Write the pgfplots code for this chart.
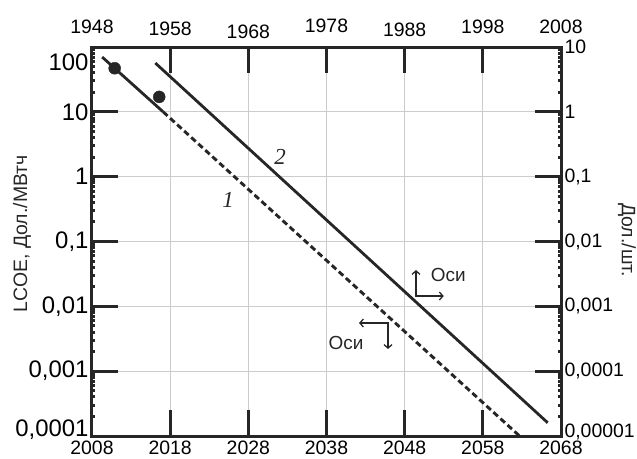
\documentclass[border=0pt]{standalone}
\usepackage{pgfplots}
\pgfplotsset{compat=1.18}
\usepackage{fontspec}
\setmainfont{Liberation Sans}
\newfontfamily\timesfont{Liberation Serif}
\usetikzlibrary{arrows.meta}
\definecolor{ax}{gray}{0.15}
\newcommand\rb[2]{\raisebox{#1}[\height][\depth]{#2}}
\begin{document}
\begin{tikzpicture}
\begin{semilogyaxis}[
  scale only axis, width=469bp, height=389bp,
  at={(0bp,0bp)}, anchor=south west,
  axis line style={line width=3bp, ax},
  tick align=inside,
  major tick length=26bp,
  every tick/.style={line width=3bp, draw=ax},
  minor tick num=0,
  clip=false,
  xmin=2008, xmax=2068, ymin=1e-4, ymax=100,
  xtick={2008,2018,2028,2038,2048,2058,2068},
  xticklabels={2008,2018,2028,2038,2048,2058,2068},
  ytick={1e-4,1e-3,1e-2,1e-1,1,10,100},
  yticklabels={{\rb{6bp}{0,0001}},{0,001},{0,01},{0,1},1,10,{\rb{-15bp}{100}}},
  xtick pos=left, ytick pos=left,
  grid=major, grid style={line width=0.8bp, gray!40},
  xticklabel style={font=\fontsize{19.5}{21}\selectfont, yshift=-1bp},
  yticklabel style={font=\fontsize{24}{26}\selectfont},
]
\addplot[line width=2.8bp, ax] coordinates {(2009.3,70) (2017.1,10)};
\addplot[line width=2.9bp, ax, dash pattern=on 6bp off 3.5bp] coordinates {(2017.1,10) (2062.7,1e-4)};
\addplot[line width=2.8bp, ax] coordinates {(2016.1,56.6) (2066.3,1.6e-4)};
\addplot[only marks, mark=*, mark size=6bp, ax] coordinates {(2010.9,47) (2016.6,17)};
\node[font=\timesfont\itshape\fontsize{23}{24}\selectfont, text=ax] at (axis cs:2032.05,2.01) {2};
\node[font=\timesfont\itshape\fontsize{23}{24}\selectfont, text=ax] at (axis cs:2025.4,0.436) {1};
\draw[{Straight Barb[length=3.5bp,width=8bp]}-{Straight Barb[length=3.5bp,width=8bp]}, line width=1.3bp, ax]
  (axis cs:2049.45,0.0363) -- (axis cs:2049.45,0.01442) -- (axis cs:2053.0,0.01442);
\node[anchor=west, font=\fontsize{19}{20}\selectfont, text=ax] at (axis cs:2050.9,0.0304) {Оси};
\draw[{Straight Barb[length=3.5bp,width=8bp]}-{Straight Barb[length=3.5bp,width=8bp]}, line width=1.3bp, ax]
  (axis cs:2042.16,0.00553) -- (axis cs:2045.87,0.00553) -- (axis cs:2045.87,0.0022);
\node[font=\fontsize{19}{20}\selectfont, text=ax] at (axis cs:2040.5,0.00272) {Оси};
\end{semilogyaxis}
\begin{semilogyaxis}[
  scale only axis, width=469bp, height=389bp,
  at={(0bp,0bp)}, anchor=south west,
  axis line style={line width=3bp, ax},
  tick align=inside,
  major tick length=26bp,
  every tick/.style={line width=3bp, draw=ax},
  minor tick num=0,
  xmin=1948, xmax=2008, ymin=1e-5, ymax=10,
  axis x line*=top, axis y line*=right,
  xtick={1948,1958,1968,1978,1988,1998,2008},
  xticklabels={{\rb{9.3bp}{1948}},{\rb{8bp}{1958}},{\rb{5bp}{1968}},{\rb{11bp}{1978}},{\rb{7bp}{1988}},{\rb{9.7bp}{1998}},{\rb{10bp}{2008}}},
  ytick={1e-5,1e-4,1e-3,1e-2,1e-1,1,10},
  yticklabels={{\rb{4bp}{0,00001}},{0,0001},{0,001},{0,01},{0,1},1,10},
  tick label style={font=\fontsize{19.5}{21}\selectfont},
]
\end{semilogyaxis}
\node[rotate=90, font=\fontsize{19.5}{21}\selectfont, text=ax] at (-70bp,202bp) {LCOE, Дол./МВтч};
\node[rotate=-90, font=\fontsize{19.5}{21}\selectfont, text=ax] at (535bp,196bp) {Дол./шт.};
\pgfresetboundingbox
\path (-92bp,-23bp) rectangle (545bp,436bp);
\end{tikzpicture}
\end{document}
